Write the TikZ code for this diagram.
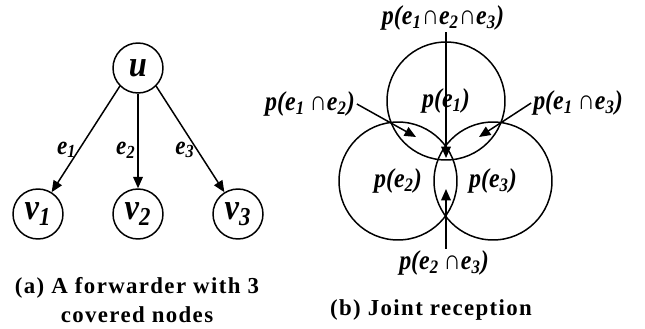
\documentclass[tikz,border=0pt]{standalone}
\usepackage{fontspec}
\setmainfont{Liberation Serif}
\newfontfamily\lblfont{Liberation Serif}[FakeStretch=0.88]
\newfontfamily\capfont{Liberation Serif}[LetterSpace=6]
\usetikzlibrary{arrows.meta}
\newcommand{\ev}[1]{e\textsubscript{#1}}

\begin{document}
\begin{tikzpicture}[x=0.02cm, y=-0.02cm,
  vert/.style={draw, circle, line width=0.85pt, minimum size=1cm, inner sep=0pt,
               font=\fontsize{21}{21}\lblfont\bfseries\itshape},
  ring/.style={draw, circle, line width=0.85pt, minimum size=2.36cm, inner sep=0pt,
               font=\fontsize{15.5}{15.5}\lblfont\bfseries\itshape},
  arr/.style={-{Triangle[length=6.5pt, width=5.5pt]}, line width=0.85pt},
  elab/.style={font=\fontsize{15}{15}\lblfont\bfseries\itshape, inner sep=1pt},
  plab/.style={font=\fontsize{15.5}{15.5}\lblfont\bfseries\itshape, inner sep=1pt},
  capt/.style={font=\fontsize{13}{17}\capfont\bfseries, align=center},
]
\useasboundingbox (0,0) rectangle (645,328);

% (a) forwarder u and the nodes it covers
\node[vert] (u)  at (138,68)  {u};
\node[vert] (v1) at (38,214)  {v\textsubscript{1}};
\node[vert] (v2) at (138,214) {v\textsubscript{2}};
\node[vert] (v3) at (238,214) {v\textsubscript{3}};

\draw[arr] (u.225) -- node[elab, left, pos=0.6] {\ev1} (v1.58);
\draw[arr] (u)     -- node[elab, left, pos=0.6] {\ev2} (v2);
\draw[arr] (u.-45) -- node[elab, left, pos=0.6] {\ev3} (v3.122);

\node[capt] (capA) at (137,300) {(a) A forwarder with 3\\covered nodes};

% (b) three overlapping reception areas
\node[ring] (c1) at (446,101) {p(\ev1)};
\node[ring] (c2) at (398,181) {p(\ev2)};
\node[ring] (c3) at (493,181) {p(\ev3)};

\node[plab] (l123) at (443,18)  {p(\ev1∩\ev2∩\ev3)};
\node[plab] (l12)  at (310,104) {p(\ev1\,∩\ev2)};
\node[plab] (l13)  at (578,103) {p(\ev1\,∩\ev3)};
\node[plab] (l23)  at (444,263) {p(\ev2\,∩\ev3)};

% arrow tips inside the overlaps
\coordinate (t123) at (446,158);
\coordinate (t12)  at (416,137);
\coordinate (t13)  at (479,137);
\coordinate (t23)  at (446,189);

\draw[arr] (l123.south -| t123) -- (t123);
\draw[arr] (l12.east) -- (t12);
\draw[arr] (l13.west) -- (t13);
\draw[arr] (l23.north -| t23) -- (t23);

\node[capt] (capB) at (431,310) {(b) Joint reception};
\end{tikzpicture}
\end{document}
